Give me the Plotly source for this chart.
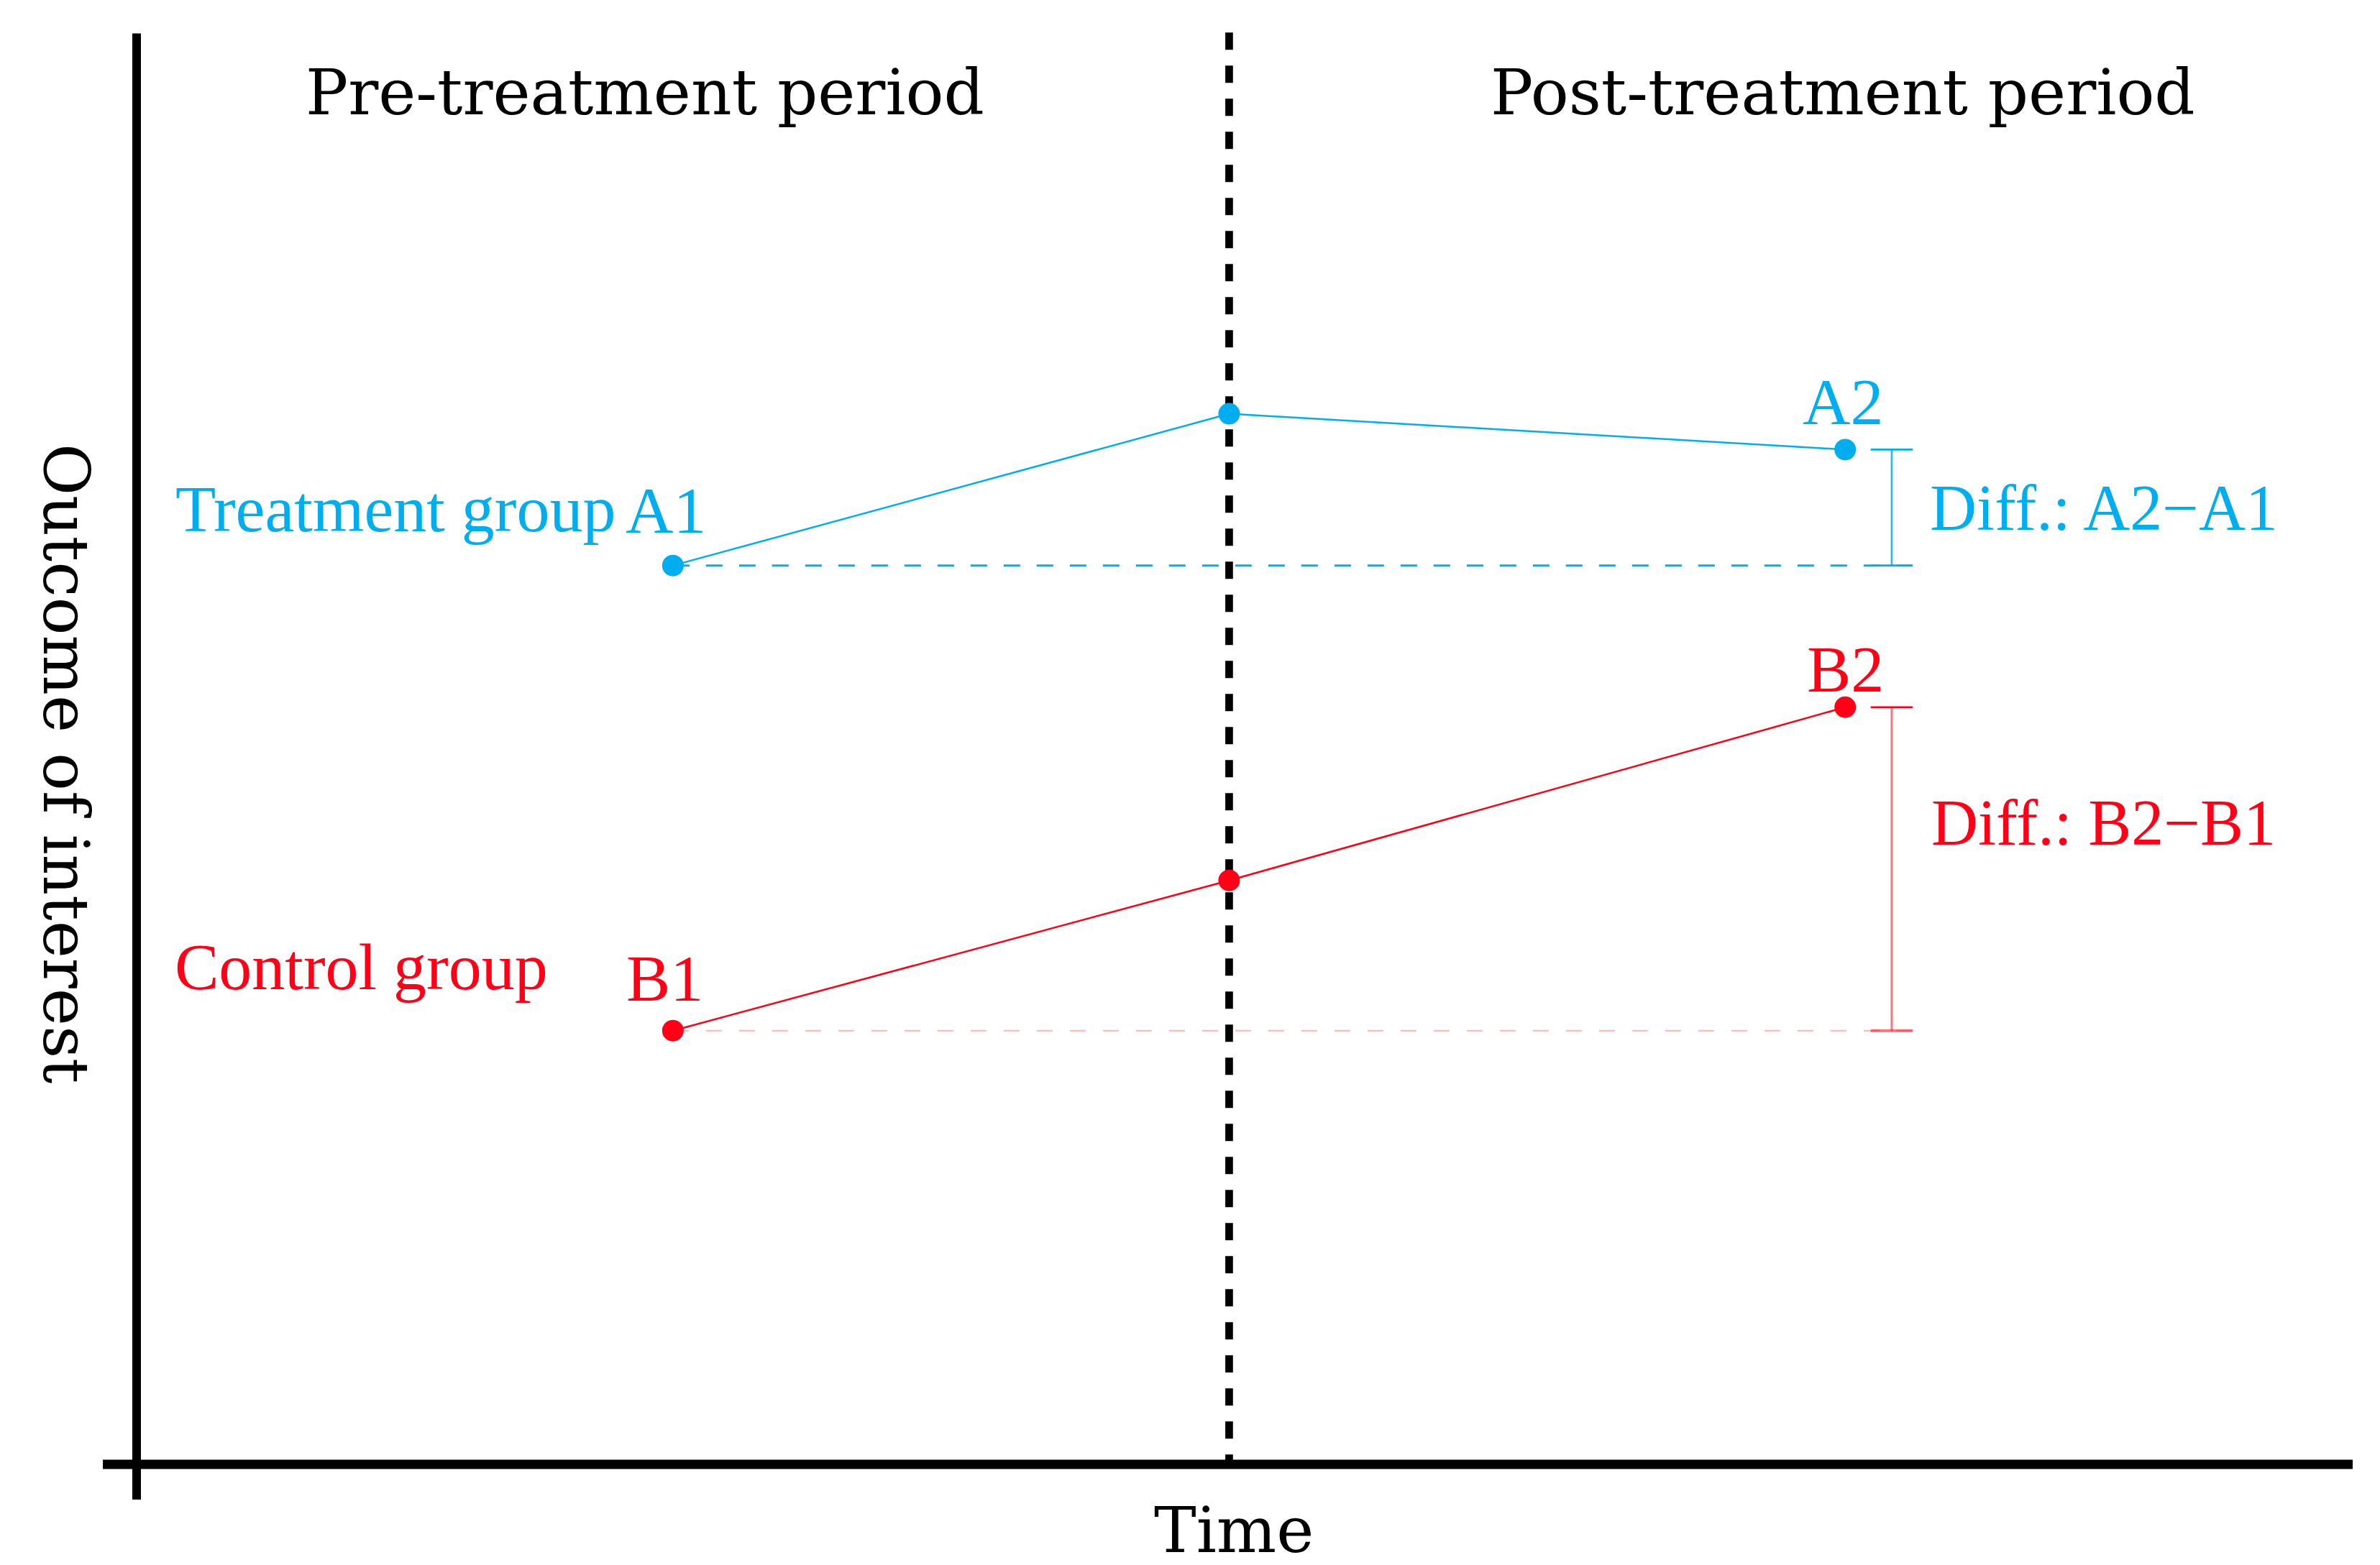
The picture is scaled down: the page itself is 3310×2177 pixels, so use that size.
import plotly.graph_objects as go

# ---------------- data ----------------
time_points = [2.42, 4.93, 7.71]          # pre-period, treatment moment, post-period
treatment_vals = [6.28, 7.34, 7.09]       # A1, (at treatment), A2
control_vals = [3.03, 4.08, 5.29]         # B1, (at treatment), B2
bracket_x = 7.92                          # position of the difference brackets
ref_end_x = 8.01                          # end of the dashed reference lines
cap_half = 0.095

point_labels_treat = ["A1", "A2"]
point_labels_ctrl = ["B1", "B2"]

BLUE = "#00AEEF"
RED = "#FF0016"

W, H = 3310, 2177
L, R, T, B = 182, 46, 38, 148
PW, PH = W - L - R, H - T - B


def px_x(p):
    return (p - L) / PW


def px_y(p):
    return (H - B - p) / PH


fig = go.Figure()

# dashed reference lines from the pre-period values
fig.add_trace(go.Scatter(x=[time_points[0], ref_end_x], y=[treatment_vals[0]] * 2,
                         mode="lines", line=dict(color=BLUE, width=3, dash="23px,23px"),
                         hoverinfo="skip", showlegend=False))
fig.add_trace(go.Scatter(x=[time_points[0], ref_end_x], y=[control_vals[0]] * 2,
                         mode="lines", line=dict(color="rgba(255,0,22,0.3)", width=2.2, dash="22px,24px"),
                         hoverinfo="skip", showlegend=False))

# brackets (treatment)
fig.add_trace(go.Scatter(x=[bracket_x, bracket_x], y=[treatment_vals[0], treatment_vals[2]],
                         mode="lines", line=dict(color="rgba(0,174,239,0.85)", width=2.7),
                         hoverinfo="skip", showlegend=False))
for yv in (treatment_vals[0], treatment_vals[2]):
    fig.add_trace(go.Scatter(x=[bracket_x - cap_half, bracket_x + cap_half], y=[yv, yv],
                             mode="lines", line=dict(color=BLUE, width=2.7),
                             hoverinfo="skip", showlegend=False))
# brackets (control)
fig.add_trace(go.Scatter(x=[bracket_x, bracket_x], y=[control_vals[0], control_vals[2]],
                         mode="lines", line=dict(color="rgba(255,0,22,0.55)", width=3),
                         hoverinfo="skip", showlegend=False))
fig.add_trace(go.Scatter(x=[bracket_x - cap_half, bracket_x + cap_half], y=[control_vals[2]] * 2,
                         mode="lines", line=dict(color=RED, width=2.5),
                         hoverinfo="skip", showlegend=False))
fig.add_trace(go.Scatter(x=[bracket_x - cap_half, bracket_x + cap_half], y=[control_vals[0]] * 2,
                         mode="lines", line=dict(color="rgba(255,0,22,0.55)", width=4),
                         hoverinfo="skip", showlegend=False))

# group lines with markers
fig.add_trace(go.Scatter(x=time_points, y=treatment_vals, mode="lines+markers",
                         line=dict(color=BLUE, width=2.5), marker=dict(color=BLUE, size=30),
                         name="Treatment group", showlegend=False))
fig.add_trace(go.Scatter(x=time_points, y=control_vals, mode="lines+markers",
                         line=dict(color=RED, width=2.5), marker=dict(color=RED, size=30),
                         name="Control group", showlegend=False))

# axes drawn as thick lines, treatment moment as dashed vertical line
shapes = [
    dict(type="line", xref="x", yref="paper", x0=time_points[1], x1=time_points[1],
         y0=px_y(37.3), y1=0, line=dict(color="black", width=10.7, dash="24px,22px"), layer="below"),
    dict(type="line", xref="paper", yref="paper", x0=0, x1=0, y0=px_y(2078), y1=px_y(38.6),
         line=dict(color="black", width=12)),
    dict(type="line", xref="paper", yref="paper", x0=px_x(135), x1=px_x(3264), y0=0, y1=0,
         line=dict(color="black", width=13)),
]

SERIF_WIDE = "DejaVu Serif"
SERIF = "Liberation Serif"
annotations = [
    dict(text="Pre-treatment period", x=px_x(889), y=px_y(120.3), font=dict(family=SERIF_WIDE, size=88, color="black"),
         xanchor="center"),
    dict(text="Post-treatment period", x=px_x(2555), y=px_y(120.3), font=dict(family=SERIF_WIDE, size=88, color="black"),
         xanchor="center"),
    dict(text="Time", x=px_x(1708), y=px_y(2120), font=dict(family=SERIF_WIDE, size=88, color="black"),
         xanchor="center"),
    dict(text="Outcome of interest", x=px_x(84), y=px_y(1054), textangle=90,
         font=dict(family=SERIF_WIDE, size=88, color="black"), xanchor="center"),
    dict(text="Treatment group", x=px_x(234), y=px_y(699.5), font=dict(family=SERIF, size=92, color=BLUE),
         xanchor="left"),
    dict(text="Control group", x=px_x(233), y=px_y(1337.5), font=dict(family=SERIF, size=92, color=RED),
         xanchor="left"),
    dict(text=point_labels_treat[0], x=px_x(918), y=px_y(701.7), font=dict(family=SERIF, size=92, color=BLUE),
         xanchor="center"),
    dict(text=point_labels_treat[1], x=px_x(2555), y=px_y(551), font=dict(family=SERIF, size=92, color=BLUE),
         xanchor="center"),
    dict(text=point_labels_ctrl[0], x=px_x(916), y=px_y(1353), font=dict(family=SERIF, size=92, color=RED),
         xanchor="center"),
    dict(text=point_labels_ctrl[1], x=px_x(2558), y=px_y(923), font=dict(family=SERIF, size=92, color=RED),
         xanchor="center"),
    dict(text="Diff.: A2\u2212A1", x=px_x(2674), y=px_y(698), font=dict(family=SERIF, size=90, color=BLUE),
         xanchor="left"),
    dict(text="Diff.: B2\u2212B1", x=px_x(2676), y=px_y(1136), font=dict(family=SERIF, size=90, color=RED),
         xanchor="left"),
]
for a in annotations:
    a.update(xref="paper", yref="paper", yanchor="middle", showarrow=False)

fig.update_layout(
    width=W, height=H, autosize=False,
    margin=dict(l=L, r=R, t=T, b=B, pad=0),
    paper_bgcolor="white", plot_bgcolor="white",
    xaxis=dict(range=[0, 10], visible=False, fixedrange=True),
    yaxis=dict(range=[0, 10], visible=False, fixedrange=True),
    shapes=shapes, annotations=annotations, showlegend=False,
)

fig.write_html("out.html", config={"displayModeBar": False})
